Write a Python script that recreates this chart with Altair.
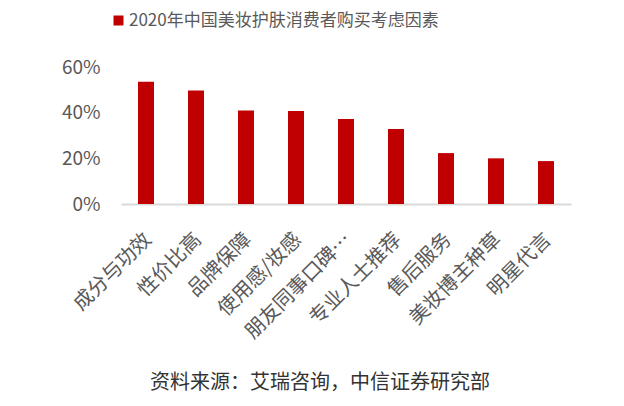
import altair as alt
import pandas as pd

categories = ["成分与功效", "性价比高", "品牌保障", "使用感/妆感", "朋友同事口碑…",
              "专业人士推荐", "售后服务", "美妆博主种草", "明星代言"]
values = [0.535, 0.497, 0.409, 0.407, 0.372, 0.328, 0.223, 0.200, 0.188]
series_name = "2020年中国美妆护肤消费者购买考虑因素"
source_text = "资料来源：艾瑞咨询，中信证券研究部"

df = pd.DataFrame({"cat": categories, "val": values, "series": series_name})
FONT = "Noto Sans CJK SC"

bars = alt.Chart(df).mark_bar(color="#C00000").encode(
    x=alt.X("cat:N", sort=categories, title=None,
            scale=alt.Scale(paddingInner=0.68, paddingOuter=0.34),
            axis=alt.Axis(labelAngle=-45, labelFontSize=20, labelColor="#595959",
                          labelFont=FONT, ticks=False, domainColor="#d9d9d9",
                          domainWidth=2, labelPadding=25, labelOffset=-5,
                          labelLimit=250)),
    y=alt.Y("val:Q", title=None,
            scale=alt.Scale(domain=[0, 0.6]),
            axis=alt.Axis(values=[0, 0.2, 0.4, 0.6], format=".0%", grid=False,
                          domain=False, ticks=False, labelFontSize=19,
                          labelColor="#595959", labelFont=FONT, labelPadding=21)),
    color=alt.Color("series:N", scale=alt.Scale(range=["#C00000"]),
                    legend=alt.Legend(title=None, orient="none", legendX=-11, legendY=-55,
                                      symbolType="square", symbolSize=100,
                                      symbolStrokeWidth=0, labelFontSize=17,
                                      labelColor="#595959", labelFont=FONT,
                                      labelOffset=2, padding=0, labelLimit=400)),
)

src = alt.Chart(pd.DataFrame({"t": [source_text]})).mark_text(
    fontSize=20, font=FONT, color="#333333", align="center", baseline="middle"
).encode(text="t:N", x=alt.value(199), y=alt.value(316))

chart = alt.layer(bars, src).properties(
    width=450, height=137,
    autosize=alt.AutoSizeParams(type="none"),
    padding={"left": 113, "top": 59, "right": 45, "bottom": 194},
).configure_view(stroke=None)

chart.save("out.html", embed_options={"renderer": "svg", "actions": False})
